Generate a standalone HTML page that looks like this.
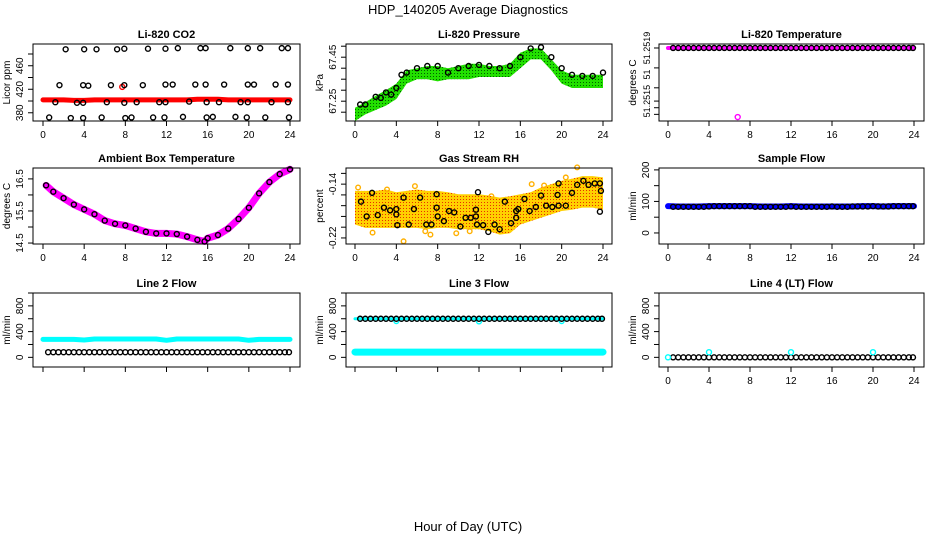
<!DOCTYPE html>
<html><head><meta charset="utf-8"><style>
html,body{margin:0;padding:0;background:#fff}
svg{display:block;font-family:"Liberation Sans",sans-serif}
.t{font-weight:bold;font-size:11px}
.tk{font-size:10px}
.tks{font-size:9px}
</style></head><body>
<svg id="c" width="936" height="540" viewBox="0 0 936 540">
<defs>
<pattern id="rhpat" width="3" height="3" patternUnits="userSpaceOnUse"><rect width="3" height="3" fill="#ffd000"/><rect x="1" y="1" width="1" height="1" fill="#e83000"/></pattern>
<pattern id="grpat" width="3" height="3" patternUnits="userSpaceOnUse"><rect width="3" height="3" fill="#22e000"/><rect x="1" y="1" width="1" height="1" fill="#006000"/></pattern>
</defs>
<text x="468" y="14" text-anchor="middle" font-size="13">HDP_140205  Average Diagnostics</text>
<text x="468" y="531" text-anchor="middle" font-size="13">Hour of Day (UTC)</text>
</svg>
<script>
// ---- data ----
const xTicks = [0,4,8,12,16,20,24];
const HOURS = [0,1,2,3,4,5,6,7,8,9,10,11,12,13,14,15,16,17,18,19,20,21,22,23,24];
const HALF = [0.5,1,1.5,2,2.5,3,3.5,4,4.5,5,5.5,6,6.5,7,7.5,8,8.5,9,9.5,10,10.5,11,11.5,12,12.5,13,13.5,14,14.5,15,15.5,16,16.5,17,17.5,18,18.5,19,19.5,20,20.5,21,21.5,22,22.5,23,23.5,23.9];

// CO2
const co2Red = [402,402,402,401,401,402,402,402,402,402,402,402,402,402,402,403,403,403,402,402,402,402,402,402,402];
const co2TopH = [2.2,4.0,5.2,7.2,7.9,10.2,11.9,13.1,15.3,15.8,18.2,19.9,21.1,23.2,23.8];
const co2TopV = [488,488,488,488,489,489,489,490,490,490,490,490,490,490,490];
const co2MidH = [1.6,3.9,4.4,6.6,7.9,9.7,11.9,12.6,14.8,15.8,17.6,19.9,20.5,22.6,23.8];
const co2MidV = [427,427,426,427,427,427,428,428,428,428,428,428,428,428,428];
const co2LowH = [1.2,3.3,3.9,6.2,7.9,9.1,11.3,11.9,14.2,15.9,17.1,19.2,19.9,22.2,23.8];
const co2LowV = [398,397,397,398,397,398,398,398,399,398,398,398,398,398,398];
const co2BotH = [0.6,2.7,3.9,5.7,8.0,8.6,10.7,11.8,13.6,15.9,16.5,18.7,19.8,21.6,23.9];
const co2BotV = [372,371,371,372,371,372,372,372,373,372,373,373,372,372,372];
// Pressure
const presH = [0.5,1,2,2.5,3,3.5,4,4.5,5,6,7,8,9,10,11,12,13,14,15,16,17,18,19,20,21,22,23,24];
const presV = [67.235,67.235,67.27,67.265,67.29,67.28,67.31,67.37,67.38,67.40,67.41,67.41,67.38,67.40,67.41,67.415,67.41,67.40,67.41,67.45,67.49,67.495,67.45,67.40,67.37,67.365,67.365,67.38];
const presHi = [67.22,67.245,67.275,67.3,67.33,67.39,67.40,67.41,67.41,67.40,67.41,67.42,67.42,67.41,67.41,67.42,67.47,67.49,67.49,67.44,67.39,67.37,67.37,67.37,67.37];
const presLo = [67.16,67.19,67.21,67.23,67.26,67.33,67.35,67.35,67.34,67.35,67.35,67.35,67.36,67.36,67.36,67.36,67.40,67.44,67.44,67.39,67.33,67.31,67.31,67.31,67.31];
// Li-820 temperature
const tempBlackV = 51.2519;
const tempOutH = [6.8];
const tempOutV = [51.25138];
// Ambient box temperature
const ambH = [0.3,1,2,3,4,5,6,7,8,9,10,11,12,13,14,15,15.7,16,17,18,19,20,21,22,23,24];
const ambV = [16.3,16.1,15.9,15.7,15.55,15.4,15.2,15.1,15.05,14.95,14.85,14.8,14.8,14.78,14.7,14.6,14.55,14.65,14.75,14.95,15.25,15.6,16.05,16.4,16.65,16.8];
// Gas stream RH
const rhBandHi = [-0.15,-0.15,-0.15,-0.148,-0.152,-0.15,-0.148,-0.15,-0.15,-0.152,-0.155,-0.155,-0.155,-0.157,-0.16,-0.158,-0.155,-0.152,-0.145,-0.14,-0.135,-0.132,-0.128,-0.128,-0.13];
const rhBandLo = [-0.2,-0.205,-0.205,-0.205,-0.205,-0.205,-0.205,-0.207,-0.205,-0.205,-0.207,-0.207,-0.207,-0.21,-0.215,-0.213,-0.2,-0.195,-0.19,-0.185,-0.18,-0.178,-0.175,-0.175,-0.178];
const rhYellowH = [0.3,5.8,4.7,7.3,11.1,17.1,20.4,21.5,3.1,18.3,1.7,6.8,13.2,9.8];
const rhYellowV = [-0.145,-0.143,-0.225,-0.215,-0.21,-0.14,-0.13,-0.115,-0.148,-0.142,-0.212,-0.21,-0.158,-0.213];
const rhBlackH = [0.58,1.13,1.65,2.2,2.8,3.4,4.0,4.0,4.1,4.7,5.2,5.7,6.3,6.9,7.4,7.9,7.9,8.0,8.6,9.1,9.6,10.2,10.7,11.2,11.7,11.7,11.8,11.9,12.4,12.9,13.5,14.0,14.5,15.1,15.6,15.6,15.8,16.4,16.9,17.5,18.0,18.5,19.1,19.6,19.7,19.7,20.4,21.0,21.5,22.1,22.6,23.2,23.7,23.8,23.7];
const rhBlackV = [-0.166,-0.188,-0.153,-0.186,-0.175,-0.179,-0.177,-0.185,-0.201,-0.16,-0.2,-0.177,-0.16,-0.2,-0.2,-0.155,-0.175,-0.188,-0.195,-0.18,-0.182,-0.203,-0.19,-0.19,-0.178,-0.188,-0.2,-0.152,-0.201,-0.211,-0.2,-0.207,-0.166,-0.198,-0.18,-0.19,-0.177,-0.162,-0.18,-0.174,-0.157,-0.172,-0.174,-0.156,-0.172,-0.139,-0.172,-0.153,-0.141,-0.135,-0.141,-0.139,-0.139,-0.15,-0.181];
// Sample flow
const sampBlue = [85,84,84,84,85,85,85,85,85,84,84,84,85,84,84,84,84,84,84,85,85,84,85,85,85];
const sampBlack = [83,83,83,83,83,83,83,84,85,85,85,85,85,85,85,85,83,83,83,83,83,83,83,84,83,83,83,83,83,83,83,84,83,83,83,84,84,84,84,85,84,84,84,85,85,85,85,85];
// Line 2 flow
const l2Cyan = [280,280,280,280,270,285,285,285,285,285,285,285,265,285,285,285,285,285,285,285,265,280,280,280,280];
const l2Black = [80,80,80,80,80,80,80,80,80,80,80,80,80,80,80,80,80,80,80,80,80,80,80,80,80,80,80,80,80,80,80,80,80,80,80,80,80,80,80,80,80,80,80,80,80,80,80,80];
// Line 3 flow
const l3Cyan = [82,82,82,82,82,82,82,82,82,82,82,82,82,82,82,82,82,82,82,82,82,82,82,82,82];
const l3Black = [600,600,600,600,600,600,600,600,600,600,600,600,600,600,600,600,600,600,600,600,600,600,600,600,600,600,600,600,600,600,600,600,600,600,600,600,600,600,600,600,600,600,600,600,600,600,600,600];
const l3DipH = [4,12,20];
const l3DipV = [565,560,565];
// Line 4 flow
const l4Black = [0,0,0,0,0,0,0,0,0,0,0,0,0,0,0,0,0,0,0,0,0,0,0,0,0,0,0,0,0,0,0,0,0,0,0,0,0,0,0,0,0,0,0,0,0,0,0,0];
const l4CyanH = [0,4,12,20];
const l4CyanV = [0,80,80,80];

// ---- rendering ----
const NS='http://www.w3.org/2000/svg';
const svg=document.getElementById('c');
function mk(tag,attrs,parent){const e=document.createElementNS(NS,tag);for(const k in attrs)e.setAttribute(k,attrs[k]);(parent||svg).appendChild(e);return e;}

function panel(o){
  const g=mk('g',{});
  
  
  const X=h=>o.x0+(h/24)*(o.x24-o.x0);
  const Y=v=>o.yb-(v-o.vmin)/(o.vmax-o.vmin)*(o.yb-o.yt);
  o.draw(g,X,Y);
  const box=mk('rect',{x:o.l,y:o.t,width:o.r-o.l,height:o.b-o.t,fill:'none',stroke:'#000','stroke-width':1},g);
  
  
  const tt=mk('text',{x:(o.l+o.r)/2,y:o.t-6,'text-anchor':'middle',class:'t'},g);
  tt.textContent=o.title;
  
  
  xTicks.forEach(h=>{
    mk('line',{x1:X(h),x2:X(h),y1:o.b,y2:o.b+5,stroke:'#000'},g);
    if(o.xlab){const t=mk('text',{x:X(h),y:o.b+17,'text-anchor':'middle',class:'tk'},g);t.textContent=h;
      
      }
  });
  o.yt_.forEach(v=>{mk('line',{x1:o.l-5,x2:o.l,y1:Y(v),y2:Y(v),stroke:'#000'},g);});
  const lx=o.l-(o.small?9:10);
  o.yl.forEach((v,i)=>{const t=mk('text',{x:lx,y:Y(v),'text-anchor':'middle',class:o.small?'tks':'tk',transform:`rotate(-90 ${lx} ${Y(v)})`},g);
    t.textContent=o.ylt?o.ylt[i]:v;
    
    });
  const yt=mk('text',{x:o.l-23,y:(o.t+o.b)/2,'text-anchor':'middle',class:'tk',transform:`rotate(-90 ${o.l-23} ${(o.t+o.b)/2})`},g);
  yt.textContent=o.ytitle;
  
  
}
function circles(g,X,Y,hs,vs,col,r,name){
  hs.forEach((h,i)=>{const c=mk('circle',{cx:X(h),cy:Y(vs[i]),r:r||2.5,fill:'none',stroke:col,'stroke-width':1.4},g);
    
    });
}
function band(g,X,Y,hs,vs,col,w,name){
  const p=mk('polyline',{points:hs.map((h,i)=>X(h)+','+Y(vs[i])).join(' '),fill:'none',stroke:col,'stroke-width':w,'stroke-linejoin':'round','stroke-linecap':'round'},g);
  
  
}
function area(g,X,Y,hs,hi,lo,fill,name){
  const pts=hs.map((h,i)=>X(h)+','+Y(hi[i])).concat(hs.slice().reverse().map((h,i)=>X(h)+','+Y(lo[hs.length-1-i])));
  const p=mk('polygon',{points:pts.join(' '),fill:fill},g);
  
  
}
const R1={t:44,b:121},R2={t:168,b:244},R3={t:293,b:367};
const C1={l:33,r:300,x0:43,x24:290},C2={l:346,r:612,x0:355,x24:603},C3={l:659,r:924,x0:668,x24:914};
function P(c,r,extra){return Object.assign({},c,r,{yt:r.t,yb:r.b},extra);}

panel(P(C1,R1,{name:'co2-panel',title:'Li-820 CO2',ytitle:'Licor ppm',xlab:true,vmin:366,vmax:497,yt_:[380,400,420,440,460,480],yl:[380,420,460],
 draw:(g,X,Y)=>{band(g,X,Y,HOURS,co2Red,'#f00',5,'co2-red-series');
  circles(g,X,Y,[7.7],[424],'#f00',2.5,'co2-red-outlier');
  circles(g,X,Y,co2TopH,co2TopV,'#000',2.5,'co2-point');circles(g,X,Y,co2MidH,co2MidV,'#000',2.5,'co2-point');
  circles(g,X,Y,co2LowH,co2LowV,'#000',2.5,'co2-point');circles(g,X,Y,co2BotH,co2BotV,'#000',2.5,'co2-point');}}));
panel(P(C2,R1,{name:'pressure-panel',title:'Li-820 Pressure',ytitle:'kPa',xlab:true,vmin:67.16,vmax:67.51,yt_:[67.2,67.25,67.3,67.35,67.4,67.45,67.5],yl:[67.25,67.45],ylt:['67.25','67.45'],
 draw:(g,X,Y)=>{area(g,X,Y,HOURS,presHi,presLo,'url(#grpat)','pressure-green-band');circles(g,X,Y,presH,presV,'#000',2.5,'pressure-point');}}));
panel(P(C3,R1,{name:'temperature-panel',title:'Li-820 Temperature',ytitle:'degrees C',xlab:true,small:true,vmin:51.25135,vmax:51.25193,yt_:[51.2519,51.25175,51.2516,51.25145,51.2515,51.2514],yl:[51.2519,51.2517,51.2515],ylt:['51.2519','51','51.2515'],
 draw:(g,X,Y)=>{band(g,X,Y,[0,24],[tempBlackV,tempBlackV],'#f0f',4,'temp-magenta-series');
  circles(g,X,Y,HALF,HALF.map(()=>tempBlackV),'#000',2.5,'temp-point');
  circles(g,X,Y,tempOutH,tempOutV,'#f0f',2.5,'temp-outlier');}}));
panel(P(C1,R2,{name:'ambient-temp-panel',title:'Ambient Box Temperature',ytitle:'degrees C',xlab:true,vmin:14.47,vmax:16.84,yt_:[14.5,15,15.5,16,16.5],yl:[14.5,15.5,16.5],ylt:['14.5','15.5','16.5'],
 draw:(g,X,Y)=>{band(g,X,Y,ambH,ambV,'#f0f',7,'ambient-magenta-series');circles(g,X,Y,ambH,ambV,'#000',2.5,'ambient-point');}}));
panel(P(C2,R2,{name:'rh-panel',title:'Gas Stream RH',ytitle:'percent',xlab:true,vmin:-0.229,vmax:-0.116,yt_:[-0.22,-0.204,-0.188,-0.172,-0.156,-0.14,-0.124],yl:[-0.22,-0.14],ylt:['-0.22','-0.14'],
 draw:(g,X,Y)=>{area(g,X,Y,HOURS,rhBandHi,rhBandLo,'url(#rhpat)','rh-yellow-cloud');
  circles(g,X,Y,rhYellowH,rhYellowV,'#ffb000',2.3,'rh-yellow-point');circles(g,X,Y,rhBlackH,rhBlackV,'#000',2.5,'rh-point');}}));
panel(P(C3,R2,{name:'sample-flow-panel',title:'Sample Flow',ytitle:'ml/min',xlab:true,vmin:-35,vmax:206,yt_:[0,50,100,150,200],yl:[0,100,200],
 draw:(g,X,Y)=>{band(g,X,Y,HOURS,sampBlue,'#00f',6,'sample-blue-series');circles(g,X,Y,HALF,sampBlack,'#000',2.5,'sample-point');}}));
panel(P(C1,R3,{name:'line2-flow-panel',title:'Line 2 Flow',ytitle:'ml/min',xlab:false,vmin:-150,vmax:1000,yt_:[0,200,400,600,800,1000],yl:[0,400,800],
 draw:(g,X,Y)=>{band(g,X,Y,HOURS,l2Cyan,'#0ff',5,'line2-cyan-series');circles(g,X,Y,HALF,l2Black,'#000',2.5,'line2-point');}}));
panel(P(C2,R3,{name:'line3-flow-panel',title:'Line 3 Flow',ytitle:'ml/min',xlab:false,vmin:-150,vmax:1000,yt_:[0,200,400,600,800,1000],yl:[0,400,800],
 draw:(g,X,Y)=>{band(g,X,Y,HOURS,l3Cyan,'#0ff',7,'line3-cyan-series');circles(g,X,Y,l3DipH,l3DipV,'#0ff',2.5,'line3-cyan-dip');
  band(g,X,Y,[0,24],[600,600],'#0ff',3,'line3-cyan-upper');circles(g,X,Y,HALF,l3Black,'#000',2.5,'line3-point');}}));
panel(P(C3,R3,{name:'line4-flow-panel',title:'Line 4 (LT) Flow',ytitle:'ml/min',xlab:true,vmin:-150,vmax:1000,yt_:[0,200,400,600,800,1000],yl:[0,400,800],
 draw:(g,X,Y)=>{circles(g,X,Y,HALF,l4Black,'#000',2.5,'line4-point');circles(g,X,Y,l4CyanH,l4CyanV,'#0ff',2.5,'line4-cyan-point');}}));
</script>
</body></html>
